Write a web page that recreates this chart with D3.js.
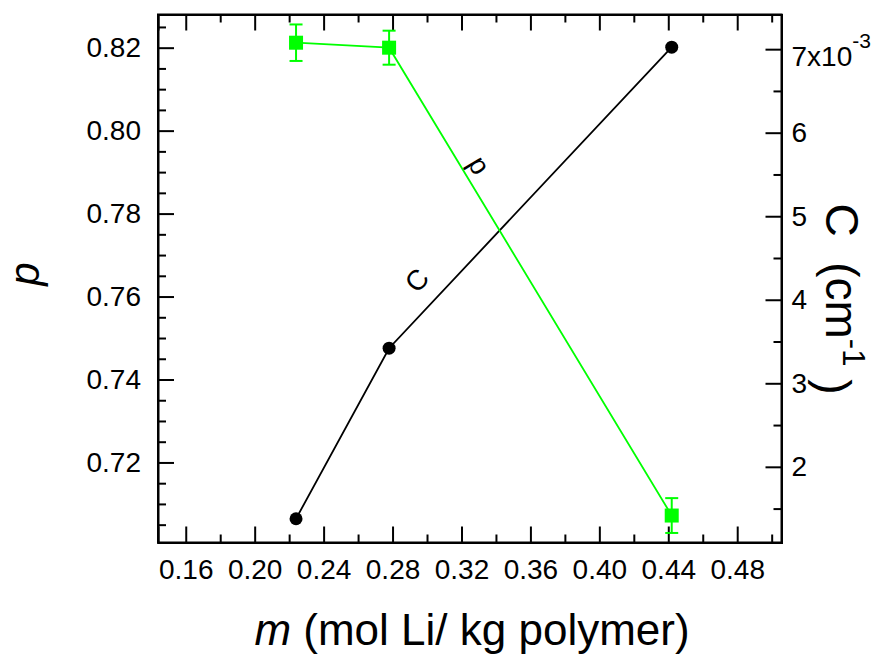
<!DOCTYPE html>
<html>
<head>
<meta charset="utf-8">
<script src="https://cdn.jsdelivr.net/npm/d3@7"></script>
<style>
  html, body { margin: 0; padding: 0; background: #fff; }
  svg { display: block; font-family: Arial, "Liberation Sans", sans-serif; }
  .axis path, .axis line { stroke: #000; stroke-width: 2px; }
</style>
</head>
<body>
<svg id="chart" width="887" height="656"></svg>
<script>
// Molality of Li salt (mol Li / kg polymer)
const mVals = [0.224, 0.278, 0.442];
// Fraction p with its error bars
const pVals = [0.8212, 0.8200, 0.7072];
const pErr  = [0.0044, 0.0041, 0.0042];
// Constant C, in units of 10^-3 cm^-1
const cVals = [1.378, 3.42, 7.024];

// Tick values
const xTicks = [0.16, 0.20, 0.24, 0.28, 0.32, 0.36, 0.40, 0.44, 0.48];
const xMinor = [0.18, 0.22, 0.26, 0.30, 0.34, 0.38, 0.42, 0.46, 0.50];
const pTicks = [0.72, 0.74, 0.76, 0.78, 0.80, 0.82];
const pMinor = [0.705, 0.71, 0.715, 0.725, 0.73, 0.735, 0.745, 0.75, 0.755,
                0.765, 0.77, 0.775, 0.785, 0.79, 0.795, 0.805, 0.81, 0.815, 0.825];
const cTicks = [2, 3, 4, 5, 6, 7];
const cMinor = [1.5, 2.5, 3.5, 4.5, 5.5, 6.5];

const plot = { left: 158, right: 781.5, top: 14.5, bottom: 542.5 };
const green = "#00ff00";
const FONT = "Arial, 'Liberation Sans', sans-serif";

const svg = d3.select("#chart");

const x  = d3.scaleLinear().domain([0.1439, 0.5057]).range([plot.left, plot.right]);
const yP = d3.scaleLinear().domain([0.7007, 0.828]).range([plot.bottom, plot.top]);
const yC = d3.scaleLinear().domain([1.094, 7.415]).range([plot.bottom, plot.top]);

const MAJOR = 16, MINOR = 8;

function styleTicks(g) {
  g.attr("font-family", null).attr("font-size", null);
  g.selectAll("text").style("font-size", "28px").style("font-family", FONT).attr("fill", "#000");
}

// Bottom axis (labels) + minor ticks
svg.append("g").attr("class", "axis").attr("transform", `translate(0,${plot.bottom})`)
  .call(d3.axisBottom(x).tickValues(xTicks).tickSize(-MAJOR).tickPadding(17).tickFormat(d3.format(".2f")))
  .call(styleTicks);
svg.append("g").attr("class", "axis").attr("transform", `translate(0,${plot.bottom})`)
  .call(d3.axisBottom(x).tickValues(xMinor).tickSize(-MINOR).tickFormat(""))
  .call(g => g.select(".domain").remove());

// Top axis (ticks only)
svg.append("g").attr("class", "axis").attr("transform", `translate(0,${plot.top})`)
  .call(d3.axisTop(x).tickValues(xTicks).tickSize(-MAJOR).tickFormat(""));
svg.append("g").attr("class", "axis").attr("transform", `translate(0,${plot.top})`)
  .call(d3.axisTop(x).tickValues(xMinor).tickSize(-MINOR).tickFormat(""))
  .call(g => g.select(".domain").remove());

// Left axis: p
svg.append("g").attr("class", "axis").attr("transform", `translate(${plot.left},0)`)
  .call(d3.axisLeft(yP).tickValues(pTicks).tickSize(-MAJOR).tickPadding(17).tickFormat(d3.format(".2f")))
  .call(styleTicks);
svg.append("g").attr("class", "axis").attr("transform", `translate(${plot.left},0)`)
  .call(d3.axisLeft(yP).tickValues(pMinor).tickSize(-MINOR).tickFormat(""))
  .call(g => g.select(".domain").remove());

// Right axis: C
const gR = svg.append("g").attr("class", "axis").attr("transform", `translate(${plot.right},0)`);
gR.call(d3.axisRight(yC).tickValues(cTicks).tickSize(-MAJOR).tickPadding(10).tickFormat(d3.format("d")))
  .call(styleTicks);
svg.append("g").attr("class", "axis").attr("transform", `translate(${plot.right},0)`)
  .call(d3.axisRight(yC).tickValues(cMinor).tickSize(-MINOR).tickFormat(""))
  .call(g => g.select(".domain").remove());

// Top right label carries the 10^-3 multiplier
gR.selectAll(".tick text").filter(d => d === 7).each(function () {
  const t = d3.select(this).text("");
  t.attr("dy", "0.58em");
  t.append("tspan").text("7x10");
  t.append("tspan").attr("dy", "-0.86em").style("font-size", "21px").text("-3");
});

// Axis frame drawn on top of the domain paths
svg.append("rect")
  .attr("x", plot.left).attr("y", plot.top)
  .attr("width", plot.right - plot.left).attr("height", plot.bottom - plot.top)
  .attr("fill", "none").attr("stroke", "#000").attr("stroke-width", 2);

// Series C (black line with circles)
const lineC = d3.line().x((d, i) => x(mVals[i])).y(d => yC(d));
svg.append("path").datum(cVals)
  .attr("d", lineC).attr("fill", "none").attr("stroke", "#000").attr("stroke-width", 1.8);
svg.selectAll(".dotC").data(cVals).enter().append("circle")
  .attr("cx", (d, i) => x(mVals[i])).attr("cy", d => yC(d)).attr("r", 6.5).attr("fill", "#000");

// Series p (green line with squares and error bars)
const lineP = d3.line().x((d, i) => x(mVals[i])).y(d => yP(d));
svg.append("path").datum(pVals)
  .attr("d", lineP).attr("fill", "none").attr("stroke", green).attr("stroke-width", 1.8);

const errG = svg.append("g").attr("stroke", green).attr("stroke-width", 2);
pVals.forEach((v, i) => {
  const cx = x(mVals[i]);
  const y1 = yP(v + pErr[i]), y2 = yP(v - pErr[i]);
  errG.append("line").attr("x1", cx).attr("x2", cx).attr("y1", y1).attr("y2", y2);
  errG.append("line").attr("x1", cx - 6.5).attr("x2", cx + 6.5).attr("y1", y1).attr("y2", y1);
  errG.append("line").attr("x1", cx - 6.5).attr("x2", cx + 6.5).attr("y1", y2).attr("y2", y2);
});
svg.selectAll(".sqP").data(pVals).enter().append("rect")
  .attr("x", (d, i) => x(mVals[i]) - 7).attr("y", d => yP(d) - 7)
  .attr("width", 14).attr("height", 14).attr("fill", green);

// Curve labels
svg.append("text").attr("transform", "translate(474.5,168) rotate(59)")
  .attr("text-anchor", "middle").attr("dy", "0.15em")
  .style("font-size", "28px").text("p");
svg.append("text").attr("transform", "translate(416.5,280) rotate(-47)")
  .attr("text-anchor", "middle").attr("dy", "0.36em")
  .style("font-size", "28px").text("C");

// Axis titles
svg.append("text").attr("transform", "translate(39,274) rotate(-90)")
  .attr("text-anchor", "middle").style("font-size", "42px").style("font-style", "italic").text("p");

const xt = svg.append("text").attr("x", 472).attr("y", 645)
  .attr("text-anchor", "middle").style("font-size", "44px");
xt.append("tspan").style("font-style", "italic").text("m");
xt.append("tspan").text(" (mol Li/ kg polymer)");

const yt = svg.append("text").attr("transform", "translate(826,299) rotate(90)")
  .attr("text-anchor", "middle").style("font-size", "46px");
yt.append("tspan").text("C\u00a0 (cm");
yt.append("tspan").attr("dy", "-0.55em").style("font-size", "31px").text("-1");
yt.append("tspan").attr("dy", "0.55em").text("\u00a0)");
</script>
</body>
</html>
